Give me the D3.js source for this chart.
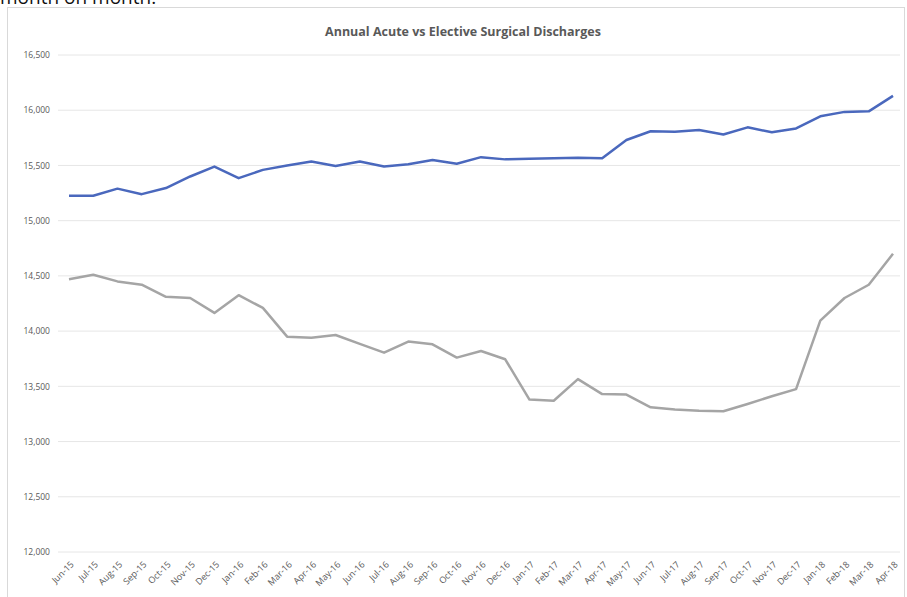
<!DOCTYPE html>
<html><head><meta charset="utf-8">
<script src="https://cdn.jsdelivr.net/npm/d3@7"></script>
<style>body{margin:0;background:#fff;overflow:hidden}</style>
</head><body>
<svg id="c" width="907" height="597"></svg>
<script>
const months = ["Jun-15","Jul-15","Aug-15","Sep-15","Oct-15","Nov-15","Dec-15","Jan-16","Feb-16","Mar-16","Apr-16","May-16","Jun-16","Jul-16","Aug-16","Sep-16","Oct-16","Nov-16","Dec-16","Jan-17","Feb-17","Mar-17","Apr-17","May-17","Jun-17","Jul-17","Aug-17","Sep-17","Oct-17","Nov-17","Dec-17","Jan-18","Feb-18","Mar-18","Apr-18"];
const acute = [15225,15225,15290,15240,15295,15400,15490,15385,15460,15500,15535,15495,15535,15490,15510,15550,15515,15575,15555,15560,15565,15570,15565,15730,15810,15805,15820,15780,15845,15800,15835,15945,15985,15990,16130];
const elective = [14470,14510,14450,14420,14310,14300,14165,14325,14210,13950,13940,13965,13885,13805,13905,13880,13760,13820,13745,13380,13370,13565,13430,13425,13310,13290,13280,13275,13340,13410,13475,14095,14300,14420,14700];
const yTicks = [12000,12500,13000,13500,14000,14500,15000,15500,16000,16500];
const title = "Annual Acute vs Elective Surgical Discharges";

const svg = d3.select("#c");
// clipped text above chart
svg.append("text").attr("x",0).attr("y",4).attr("font-family","Open Sans, sans-serif")
  .attr("font-size",19).attr("fill","#111").text("month on month.");
// chart frame
svg.append("rect").attr("x",7.5).attr("y",7.5).attr("width",897).attr("height",600)
  .attr("fill","#fff").attr("stroke","#d9d9d9");

const x = d3.scalePoint().domain(months).range([69,893]);
const y = d3.scaleLinear().domain([12000,16500]).range([552,55]);

// gridlines
svg.append("g").selectAll("line").data(yTicks).join("line")
  .attr("x1",58).attr("x2",900).attr("y1",d=>y(d)).attr("y2",d=>y(d))
  .attr("stroke","#e6e6e6").attr("stroke-width",1);

// y axis
const yAxis = svg.append("g").attr("transform","translate(50,0)")
  .call(d3.axisLeft(y).tickValues(yTicks).tickFormat(d3.format(",")).tickSize(0).tickPadding(0));
yAxis.select(".domain").remove();
yAxis.selectAll("text").attr("font-family","Open Sans, sans-serif").attr("font-size",8.5).attr("fill","#595959");

// x axis
const xAxis = svg.append("g").attr("transform","translate(0,552)")
  .call(d3.axisBottom(x).tickSize(0).tickPadding(0));
xAxis.select(".domain").remove();
xAxis.selectAll("text").attr("font-family","Open Sans, sans-serif").attr("font-size",9).attr("fill","#595959")
  .attr("text-anchor","end").attr("dy",0).attr("transform","translate(5,13) rotate(-45)");

// lines
const line = d3.line().x((d,i)=>x(months[i])).y(d=>y(d));
svg.append("path").datum(elective).attr("d",line).attr("fill","none")
  .attr("stroke","#a5a5a5").attr("stroke-width",2.5).attr("stroke-linejoin","round");
svg.append("path").datum(acute).attr("d",line).attr("fill","none")
  .attr("stroke","#4a68bd").attr("stroke-width",2.5).attr("stroke-linejoin","round");

// title
svg.append("text").attr("x",463).attr("y",36).attr("text-anchor","middle")
  .attr("font-family","Open Sans, sans-serif").attr("font-weight","bold").attr("font-size",12.5)
  .attr("fill","#595959").text(title);
</script>
</body></html>
